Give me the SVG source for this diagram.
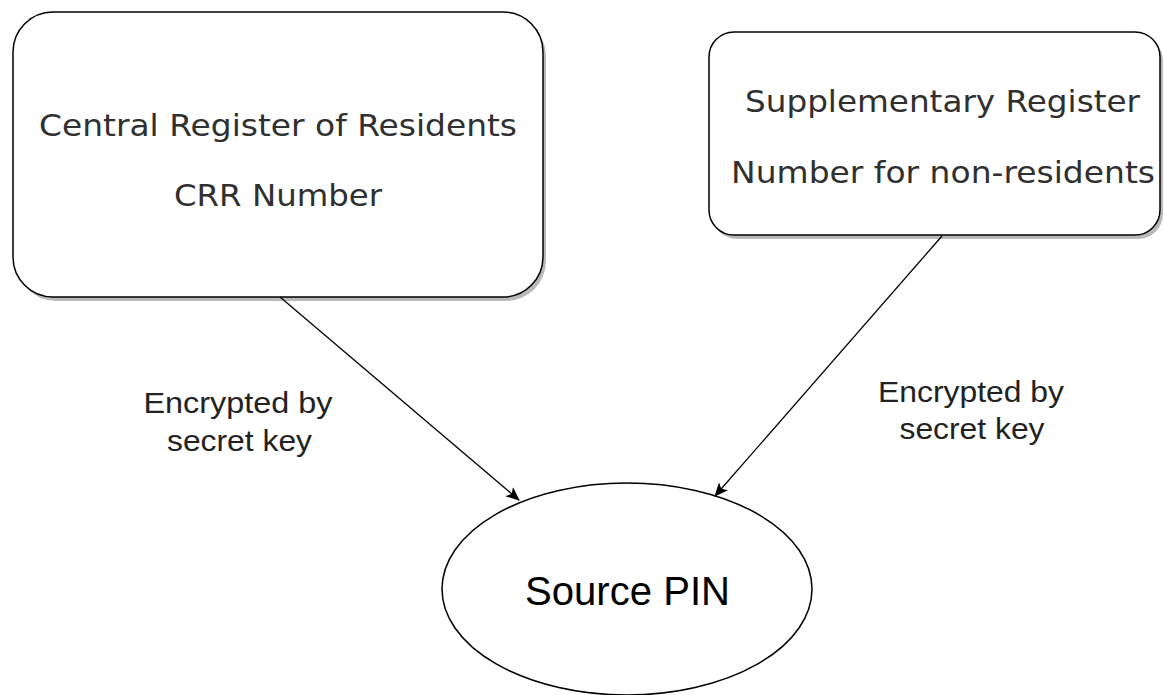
<svg xmlns="http://www.w3.org/2000/svg" width="1164" height="695" viewBox="0 0 1164 695">
  <style>
    .box { fill: #ffffff; stroke: #000000; stroke-width: 1.5; }
    .shadow { fill: #8a8a8a; opacity: 0.6; }
    .boxtext { font-family: "DejaVu Sans", Verdana, sans-serif; font-size: 31px; fill: #303030; text-anchor: middle; }
    .label { font-family: "Liberation Sans", Arial, sans-serif; font-size: 29px; fill: #222222; text-anchor: middle; }
    .pin { font-family: "Liberation Sans", Arial, sans-serif; font-size: 40px; fill: #000000; text-anchor: middle; }
    .edge { stroke: #000000; stroke-width: 1.3; fill: none; }
  </style>
  <defs>
    <marker id="arrow" viewBox="0 0 14 12" refX="13" refY="6" markerWidth="14" markerHeight="12" markerUnits="userSpaceOnUse" orient="auto">
      <path d="M0,0 L14,6 L0,12 L3.5,6 Z" fill="#000000"/>
    </marker>
  </defs>
  <rect width="1164" height="695" fill="#ffffff"/>

  <g id="node-crr">
    <rect class="shadow" x="16" y="16" width="530" height="285" rx="40" ry="40"/>
    <rect class="box" x="13" y="12" width="530" height="285" rx="40" ry="40"/>
    <text class="boxtext" x="278" y="136" textLength="478" lengthAdjust="spacingAndGlyphs">Central Register of Residents</text>
    <text class="boxtext" x="278" y="206" textLength="208" lengthAdjust="spacingAndGlyphs">CRR Number</text>
  </g>

  <g id="node-supp">
    <rect class="shadow" x="712" y="36" width="451" height="203" rx="25" ry="25"/>
    <rect class="box" x="709" y="32" width="451" height="203" rx="25" ry="25"/>
    <text class="boxtext" x="942.5" y="112" textLength="395" lengthAdjust="spacingAndGlyphs">Supplementary Register</text>
    <text class="boxtext" x="943" y="183" textLength="424" lengthAdjust="spacingAndGlyphs">Number for non-residents</text>
  </g>

  <g id="node-pin">
    <ellipse class="box" cx="627" cy="589" rx="185" ry="106" stroke-width="1.3"/>
    <text class="pin" x="627.5" y="605" textLength="205" lengthAdjust="spacingAndGlyphs">Source PIN</text>
  </g>

  <g id="connectors">
    <line class="edge" x1="280" y1="297" x2="519" y2="500" marker-end="url(#arrow)"/>
    <line class="edge" x1="942" y1="236" x2="715" y2="496" marker-end="url(#arrow)"/>
    <g id="label-left">
      <text class="label" x="238" y="413" textLength="189" lengthAdjust="spacingAndGlyphs">Encrypted by</text>
      <text class="label" x="239.5" y="451" textLength="145" lengthAdjust="spacingAndGlyphs">secret key</text>
    </g>
    <g id="label-right">
      <text class="label" x="971" y="402" textLength="186" lengthAdjust="spacingAndGlyphs">Encrypted by</text>
      <text class="label" x="972" y="439" textLength="145" lengthAdjust="spacingAndGlyphs">secret key</text>
    </g>
  </g>
</svg>
